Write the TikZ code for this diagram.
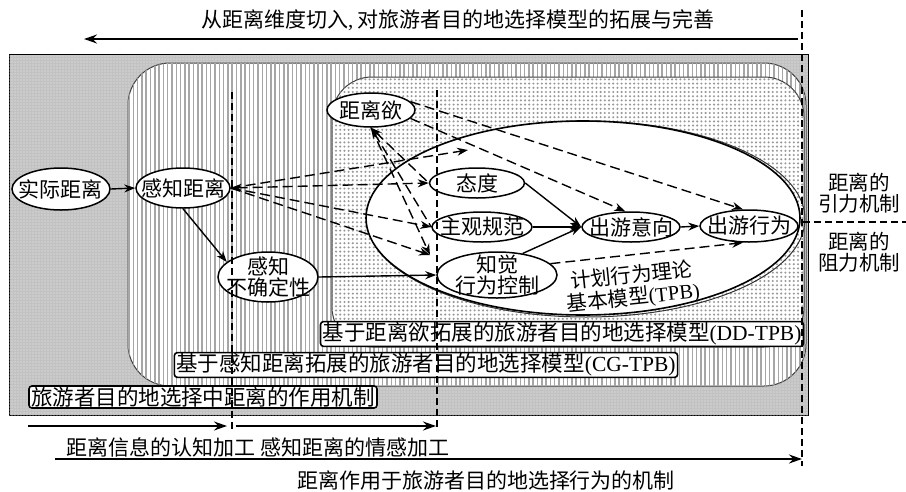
\documentclass[tikz,border=0pt]{standalone}
\usepackage{fontspec}
\setmainfont{Noto Sans CJK SC}
\newfontfamily\lat{Liberation Serif}
\usetikzlibrary{shapes.geometric,arrows.meta,patterns,patterns.meta}
\begin{document}
\begin{tikzpicture}[x=1pt,y=-1pt,
  every node/.style={font=\fontsize{21}{21.5}\selectfont},
  ell/.style={ellipse,draw,line width=1.5pt,fill=white,inner sep=0pt},
  arr/.style={line width=1.4pt,-{Stealth[length=11pt,width=8pt]}},
  darr/.style={arr,dash pattern=on 10pt off 5pt},
  dline/.style={line width=1.4pt,dash pattern=on 10pt off 5pt},
  vdash/.style={line width=1.1pt,dash pattern=on 7pt off 4pt},
  lab/.style={draw,line width=1.6pt,rounded corners=3pt,fill=white,inner xsep=2pt,inner ysep=1pt,font=\fontsize{21.5}{22}\selectfont},
  big/.style={line width=1.7pt,-{Stealth[length=13pt,width=9pt]}},
  tpbtext/.style={rotate=6,anchor=west,inner sep=0pt,font=\fontsize{20.5}{21}\selectfont}
]
\useasboundingbox (0,0) rectangle (906,491);
\fill[white] (0,0) rectangle (906,491);
% outer region
\draw[line width=1pt,fill=gray!48] (9,54) rectangle (808,415);
\path[pattern={Dots[distance=3pt,radius=0.55pt]},pattern color=gray!15] (9,54) rectangle (808,415);
% vertical-hatched region
\draw[line width=1pt,gray!50!black,fill=white,rounded corners=42pt] (128,63) rectangle (806,386);
\path[pattern={Lines[angle=90,distance=4.3pt,line width=1.5pt]},pattern color=gray!70,rounded corners=42pt] (128,63) rectangle (806,386);
% dotted region
\draw[line width=1pt,gray!50!black,fill=white,rounded corners=40pt] (332,77) rectangle (804,347);
\path[pattern={Dots[distance=4.2pt,radius=1.15pt]},pattern color=gray!80,rounded corners=40pt] (332,77) rectangle (804,347);
% TPB ellipse
\draw[line width=1pt,gray!40!black] (586,219) ellipse [x radius=219, y radius=98];
\draw[line width=1.6pt,fill=white] (583,218) ellipse [x radius=217, y radius=97];

% nodes
\node[ell,minimum width=98pt,minimum height=42pt,label={center:实际距离}] (shiji) at (61,189) {};
\node[ell,minimum width=94pt,minimum height=40pt,label={center:感知距离}] (ganzhi) at (183,188) {};
\node[ell,minimum width=100pt,minimum height=50pt,label={[align=center]center:{感知\\不确定性}}] (buque) at (268,277) {};
\node[ell,minimum width=88pt,minimum height=34pt,label={center:距离欲}] (yu) at (371,110) {};
\node[ell,minimum width=95pt,minimum height=30pt,label={center:态度}] (taidu) at (477,183) {};
\node[ell,minimum width=100pt,minimum height=30pt,label={center:主观规范}] (zhuguan) at (482,227) {};
\node[ell,minimum width=120pt,minimum height=46pt,label={[align=center]center:{知觉\\行为控制}}] (zhijue) at (497,275) {};
\node[ell,minimum width=98pt,minimum height=30pt,label={center:出游意向}] (yixiang) at (631,227) {};
\node[ell,minimum width=98pt,minimum height=32pt,label={center:出游行为}] (xingwei) at (749,226) {};

\node[tpbtext] (tpb1) at (570,281) {计划行为理论};
\node[tpbtext] (tpb2) at (567,305) {基本模型{\lat(TPB)}};

\coordinate (c1) at (468,150);
\coordinate (c4) at (430,255);

% solid connectors
\draw[arr] (shiji.east) -- (ganzhi.west);
\draw[arr] (ganzhi.south) -- (buque.160);
\draw[arr] (buque.east) -- (zhijue.west);
\draw[arr] (taidu.east) -- (yixiang.west);
\draw[arr] (zhuguan.east) -- (yixiang.west);
\draw[arr] (zhijue.40) -- (yixiang.west);
\draw[arr] (yixiang.east) -- (xingwei.west);

% dashed connectors
\draw[darr] (ganzhi.east) -- (c1);
\draw[darr,{Stealth[length=11pt,width=8pt]}-{Stealth[length=11pt,width=8pt]}] (ganzhi.east) -- (taidu.west);
\draw[darr] (ganzhi.east) -- (zhuguan.west);
\draw[darr] (ganzhi.east) -- (c4);
\draw[dline,{Stealth[length=11pt,width=8pt]}-] (yu.south) -- (taidu.west);
\draw[dline,{Stealth[length=11pt,width=8pt]}-] (yu.south) -- (zhuguan.west);
\draw[darr] (yu.south) -- (c4);
\draw[darr] (yu.-12) -- (yixiang.110);
\draw[darr] (yu.12) -- (xingwei.110);
\draw[darr] (zhijue.12) -- (xingwei.250);

% label boxes
\node[lab] (dd) at (562,334) {基于距离欲拓展的旅游者目的地选择模型{\lat(DD-TPB)}};
\node[lab] (cg) at (426,365) {基于感知距离拓展的旅游者目的地选择模型{\lat(CG-TPB)}};
\node[lab] (mech) at (203,397) {旅游者目的地选择中距离的作用机制};

% right labels
\node[align=center,font=\fontsize{20.5}{20.5}\selectfont] (yin) at (859,193) {距离的\\引力机制};
\node[align=center,font=\fontsize{20.5}{20.5}\selectfont] (zu) at (859,252) {距离的\\阻力机制};

% top
\node (toptext) at (458,20) {从距离维度切入{\lat,} 对旅游者目的地选择模型的拓展与完善};
\coordinate (ta) at (798,39);
\coordinate (tb) at (84,39);
\draw[big] (ta) -- (tb);

% bottom
\coordinate (b1) at (28,426);
\coordinate (b2) at (227,426);
\coordinate (b3) at (236,426);
\coordinate (b4) at (436,426);
\draw[big] (b1) -- (b2);
\draw[big] (b3) -- (b4);
\node (proc) at (258,447) {距离信息的认知加工 感知距离的情感加工};
\coordinate (b5) at (55,459);
\coordinate (b6) at (802,459);
\draw[big] (b5) -- (b6);
\node (bottomtext) at (486,480) {距离作用于旅游者目的地选择行为的机制};

% dashed guide lines
\coordinate (v1a) at (232,92); \coordinate (v1b) at (232,432);
\coordinate (v2a) at (437,90); \coordinate (v2b) at (437,430);
\coordinate (v3a) at (802,10); \coordinate (v3b) at (802,466);
\coordinate (h1a) at (803,222); \coordinate (h1b) at (906,222);
\draw[vdash] (v1a) -- (v1b);
\draw[vdash] (v2a) -- (v2b);
\draw[vdash] (v3a) -- (v3b);
\draw[vdash,line width=1.3pt] (h1a) -- (h1b);
\end{tikzpicture}
\end{document}
